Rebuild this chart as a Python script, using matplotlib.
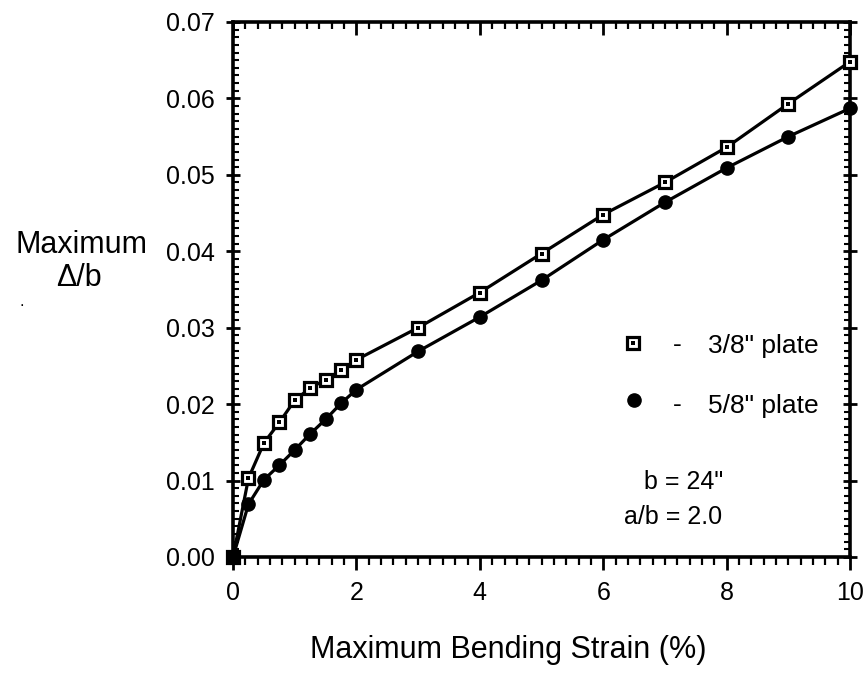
import matplotlib
matplotlib.use("Agg")
import matplotlib.pyplot as plt
from matplotlib.ticker import MultipleLocator, FormatStrFormatter

plt.rcParams['font.family'] = ['Liberation Sans', 'DejaVu Sans']

strain = [0, 0.25, 0.5, 0.75, 1.0, 1.25, 1.5, 1.75, 2, 3, 4, 5, 6, 7, 8, 9, 10]
plate_38 = [0.0, 0.0103, 0.0149, 0.0176, 0.0205, 0.0221, 0.0232, 0.0244, 0.0258,
            0.0300, 0.0346, 0.0397, 0.0448, 0.0490, 0.0536, 0.0593, 0.0648]
plate_58 = [0.0, 0.0069, 0.0101, 0.0120, 0.0140, 0.0161, 0.0180, 0.0201, 0.0219,
            0.0269, 0.0314, 0.0362, 0.0415, 0.0464, 0.0509, 0.0550, 0.0587]
xticks = [0, 2, 4, 6, 8, 10]
yticks = [0.00, 0.01, 0.02, 0.03, 0.04, 0.05, 0.06, 0.07]

fig = plt.figure(figsize=(8.66, 6.77), dpi=100)
ax = fig.add_axes([0.2691, 0.1773, 0.7125, 0.7903])

ax.plot(strain, plate_38, '-', color='black', lw=2.3, zorder=2, clip_on=False)
ax.plot(strain, plate_38, 's', ms=9, mfc='white', mec='black', mew=2.3, zorder=3, clip_on=False)
ax.plot(strain, plate_38, 's', ms=2.2, mfc='black', mec='black', mew=0, zorder=4, clip_on=False)
ax.plot(strain, plate_58, '-', color='black', lw=2.3, zorder=2, clip_on=False)
ax.plot(strain, plate_58, 'o', ms=9.5, mfc='black', mec='black', zorder=3, clip_on=False)

ax.set_xlim(0, 10)
ax.set_ylim(0, 0.07)
ax.set_xticks(xticks)
ax.set_yticks(yticks)
ax.yaxis.set_major_formatter(FormatStrFormatter('%.2f'))
ax.xaxis.set_minor_locator(MultipleLocator(0.2))
ax.yaxis.set_minor_locator(MultipleLocator(0.001))

for s in ax.spines.values():
    s.set_linewidth(2.6)

# bottom axis: ticks outward
ax.tick_params(axis='x', which='major', bottom=True, top=True, direction='out',
               length=9.5, width=2, labelsize=18, pad=8)
ax.tick_params(axis='x', which='minor', bottom=True, top=True, direction='out',
               length=5.5, width=1.6)
# left axis
ax.tick_params(axis='y', which='major', left=True, right=True, direction='inout',
               length=10, width=2, labelsize=18, pad=8)
ax.tick_params(axis='y', which='minor', left=True, right=True, direction='in',
               length=4.5, width=1.5)
# top ticks inward
for t in ax.xaxis.get_major_ticks():
    t.tick2line.set_marker(3)
    t.tick2line.set_markersize(9)
for t in ax.xaxis.get_minor_ticks():
    t.tick2line.set_marker(3)
    t.tick2line.set_markersize(5)

fig.text(508 / 866, 1 - 650 / 677, 'Maximum Bending Strain (%)', fontsize=22,
         ha='center', va='center')
fig.text(82 / 866, 1 - 245 / 677, 'Maximum', fontsize=22, ha='center', va='center')
fig.text(79 / 866, 1 - 278 / 677, '\u0394/b', fontsize=22, ha='center', va='center')
fig.text(22 / 866, 1 - 302 / 677, '.', fontsize=12, ha='center', va='center')

# legend
ax.plot([6.48], [0.0280], 's', ms=9, mfc='white', mec='black', mew=2.3)
ax.plot([6.48], [0.0280], 's', ms=2.2, mfc='black', mec='black', mew=0)
ax.text(7.2, 0.0277, '-', fontsize=19, ha='center', va='center')
ax.text(7.70, 0.0276, '3/8" plate', fontsize=19, ha='left', va='center')
ax.plot([6.5], [0.0205], 'o', ms=9.5, mfc='black', mec='black')
ax.text(7.2, 0.0199, '-', fontsize=19, ha='center', va='center')
ax.text(7.70, 0.0198, '5/8" plate', fontsize=19, ha='left', va='center')
ax.text(7.94, 0.0098, 'b = 24"', fontsize=18, ha='right', va='center')
ax.text(7.92, 0.0052, 'a/b = 2.0', fontsize=18, ha='right', va='center')

fig.savefig('out.png', dpi=100)
